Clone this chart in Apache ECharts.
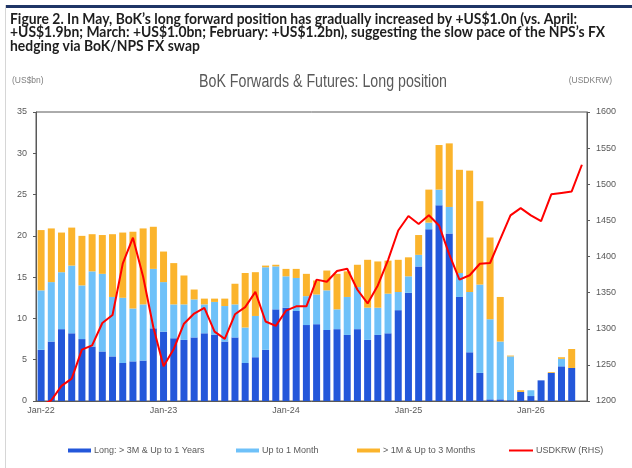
<!DOCTYPE html>
<html>
<head>
<meta charset="utf-8">
<script src="https://cdn.jsdelivr.net/npm/echarts@6/dist/echarts.min.js"></script>
<style>
  html, body { margin: 0; padding: 0; background: #fff; }
  #main { width: 632px; height: 468px; }
</style>
</head>
<body>
<div id="main"></div>
<script>
// months Jan-22 .. Jun-26 (last month only has the FX rate)
const months = [
  'Jan-22','Feb-22','Mar-22','Apr-22','May-22','Jun-22','Jul-22','Aug-22','Sep-22','Oct-22','Nov-22','Dec-22',
  'Jan-23','Feb-23','Mar-23','Apr-23','May-23','Jun-23','Jul-23','Aug-23','Sep-23','Oct-23','Nov-23','Dec-23',
  'Jan-24','Feb-24','Mar-24','Apr-24','May-24','Jun-24','Jul-24','Aug-24','Sep-24','Oct-24','Nov-24','Dec-24',
  'Jan-25','Feb-25','Mar-25','Apr-25','May-25','Jun-25','Jul-25','Aug-25','Sep-25','Oct-25','Nov-25','Dec-25',
  'Jan-26','Feb-26','Mar-26','Apr-26','May-26','Jun-26'
]

// US$bn
const longOver3M = [
  6.2, 7.2, 8.7, 8.2, 7.5, 6.6, 6.0, 5.4, 4.6, 4.8, 4.9, 8.8,
  8.4, 7.6, 7.4, 7.7, 8.2, 8.0, 7.2, 7.7, 4.6, 5.3, 6.2, 11.1,
  11.3, 10.9, 9.2, 9.3, 8.6, 8.7, 8.0, 8.7, 7.4, 8.0, 8.2, 11.0,
  13.1, 16.3, 20.8, 23.7, 20.3, 12.6, 5.9, 3.4, 0.2, 0.2, 0.1, 1.1,
  0.6, 2.5, 3.4, 4.2, 4.0, null
]
const upTo1M = [
  7.2, 7.2, 6.9, 8.2, 6.5, 9.1, 9.4, 7.2, 7.9, 6.4, 6.8, 7.2,
  6.0, 4.1, 4.3, 4.6, 3.5, 4.0, 4.3, 4.0, 4.3, 5.0, 10.0, 5.2,
  3.8, 4.0, 3.5, 3.6, 4.8, 2.4, 4.6, 5.1, 3.9, 3.3, 4.8, 2.2,
  2.0, 1.4, 0.8, 1.9, 3.2, 2.9, 7.3, 10.7, 9.7, 7.0, 5.3, 0,
  0.7, 0, 0, 0.9, 0, null
]
const from1Mto3M = [
  7.3, 6.5, 4.8, 4.6, 6.0, 4.5, 4.7, 7.6, 7.9, 9.3, 9.2, 5.1,
  3.7, 5.0, 3.5, 1.2, 0.7, 0.4, 0.9, 2.5, 6.6, 5.3, 0.2, 0.2,
  0.9, 1.1, 2.7, 1.7, 2.4, 4.3, 3.1, 2.7, 5.8, 5.6, 4.0, 3.9,
  2.3, 2.4, 4.0, 5.4, 7.7, 12.5, 14.7, 10.1, 9.9, 5.4, 0.1, 0.2,
  0, 0, 0.1, 0.2, 2.3, null
]
// monthly USDKRW
const usdkrw = [
  1194, 1201, 1221, 1231, 1271, 1277, 1308, 1319, 1390, 1426, 1372, 1302,
  1248, 1272, 1307, 1321, 1329, 1296, 1286, 1320, 1330, 1351, 1310, 1304,
  1325, 1331, 1331, 1368, 1365, 1380, 1383, 1354, 1335, 1360, 1395, 1436,
  1456, 1445, 1457, 1443, 1403, 1368, 1374, 1390, 1391, 1424, 1457, 1467,
  1457, 1449, 1486, 1488, 1490, 1527
]

const captionLines = [
  'Figure 2. In May, BoK\u2019s long forward position has gradually increased by +US$1.0n (vs. April:',
  '+US$1.9bn; March: +US$1.0bn; February: +US$1.2bn), suggesting the slow pace of the NPS\u2019s FX',
  'hedging via BoK/NPS FX swap'
]
const chartTitle = 'BoK Forwards & Futures: Long position'

const names = ['Long: > 3M & Up to 1 Years', 'Up to 1 Month', '> 1M & Up to 3 Months', 'USDKRW (RHS)']
const colors = ['#2357DA', '#6EC1F9', '#FBB42C', '#FF0000']

// squeeze text horizontally so it spans the same width as in the picture
function fitScale(text, font, width) {
  let ctx = document.createElement('canvas').getContext('2d')
  ctx.font = font
  return width / ctx.measureText(text).width
}

const capFont = 'bold 14.5px Lato'
const capScale = fitScale(captionLines[0], capFont, 567)
const titleFont = '18px "Liberation Sans"'
const titleScale = fitScale(chartTitle, titleFont, 248)

let graphics = [
  {type: 'rect', shape: {x: 5, y: 5, width: 627, height: 3}, style: {fill: '#1F3566'}},
  {type: 'line', shape: {x1: 5.5, y1: 5, x2: 5.5, y2: 468}, style: {stroke: '#D6D6D6', lineWidth: 1}},
  {type: 'text', x: 323, y: 82, scaleX: titleScale,
    style: {text: chartTitle, font: titleFont, fill: '#595959', textAlign: 'center', textVerticalAlign: 'middle'}},
  {type: 'text', x: 12, y: 81,
    style: {text: '(US$bn)', font: '8.5px "Liberation Sans"', fill: '#7f7f7f', textVerticalAlign: 'middle'}},
  {type: 'text', x: 612, y: 81,
    style: {text: '(USDKRW)', font: '8.5px "Liberation Sans"', fill: '#7f7f7f', textAlign: 'right', textVerticalAlign: 'middle'}}
]
captionLines.forEach(function (t, i) {
  graphics.push({
    type: 'text', x: 10, y: 19 + i * 13.5, scaleX: capScale,
    style: {text: t, font: capFont, fill: '#1E1E1E', textVerticalAlign: 'middle'}
  })
})

const legendLeft = [63, 231, 352, 504]
let legends = names.map(function (n, i) {
  return {
    data: [{name: n, icon: 'rect'}],
    left: legendLeft[i],
    top: 441,
    itemWidth: i < 3 ? 23 : 24,
    itemHeight: i < 3 ? 4 : 2,
    itemGap: 0,
    textStyle: {fontSize: 9, color: '#595959', fontFamily: 'Liberation Sans', padding: [0, 0, 0, -2]}
  }
})

const axisText = {fontSize: 9, color: '#595959', fontFamily: 'Liberation Sans'}

let chart = echarts.init(document.getElementById('main'), null, {renderer: 'canvas'})
chart.setOption({
  animation: false,
  backgroundColor: '#fff',
  graphic: graphics,
  legend: legends,
  grid: {left: 36, right: 45, top: 112, bottom: 67, show: true, borderColor: '#595959', borderWidth: 1},
  xAxis: {
    type: 'category',
    data: months,
    boundaryGap: true,
    axisLine: {lineStyle: {color: '#595959'}},
    axisTick: {interval: 11, length: 3, lineStyle: {color: '#595959'}},
    axisLabel: Object.assign({interval: 11, margin: 5}, axisText)
  },
  yAxis: [
    {
      type: 'value', min: 0, max: 35, interval: 5,
      axisLine: {show: true, lineStyle: {color: '#595959'}},
      axisTick: {show: true, length: 3, lineStyle: {color: '#595959'}},
      axisLabel: Object.assign({margin: 9}, axisText),
      splitLine: {show: false}
    },
    {
      type: 'value', min: 1200, max: 1600, interval: 50,
      axisLine: {show: true, lineStyle: {color: '#595959'}},
      axisTick: {show: true, length: 3, lineStyle: {color: '#595959'}},
      axisLabel: Object.assign({margin: 9, formatter: function (v) { return String(v) }}, axisText),
      splitLine: {show: false}
    }
  ],
  series: [
    {name: names[0], type: 'bar', stack: 'pos', barWidth: 7, data: longOver3M, itemStyle: {color: colors[0]}},
    {name: names[1], type: 'bar', stack: 'pos', barWidth: 7, data: upTo1M, itemStyle: {color: colors[1]}},
    {name: names[2], type: 'bar', stack: 'pos', barWidth: 7, data: from1Mto3M, itemStyle: {color: colors[2]}},
    {
      name: names[3], type: 'line', yAxisIndex: 1, data: usdkrw,
      symbol: 'none', clip: true,
      lineStyle: {color: colors[3], width: 2}, itemStyle: {color: colors[3]}
    }
  ]
})
</script>
</body>
</html>
